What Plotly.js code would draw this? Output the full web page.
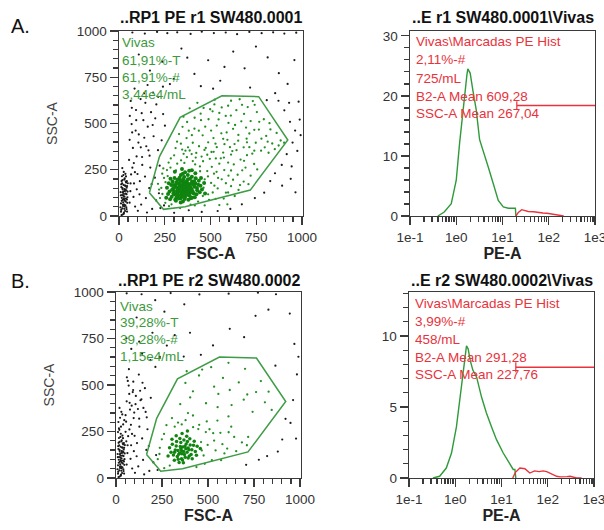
<!DOCTYPE html>
<html><head><meta charset="utf-8">
<script src="https://cdn.plot.ly/plotly-3.0.1.min.js"></script>
<style>html,body{margin:0;padding:0;background:#fff}#chart{width:604px;height:530px}</style>
</head><body><div id="chart"></div>
<script>
// ---- Gate polygon "Vivas" (FSC-A, SSC-A) ----
const gateX = [166, 243, 361, 717, 922, 763, 562, 334, 221, 166];
const gateY = [126, 36, 50, 140, 411, 645, 650, 533, 321, 126];

// ---- Scatter A: events outside the gate (black) ----
const blackA = [
[21,87],[34,142],[12,33],[28,61],[41,118],[17,176],[26,12],[38,94],[9,129],[31,203],[22,54],[45,71],[15,98],[36,163],[27,119],[11,68],[43,188],[19,151],[33,27],[24,221],[40,47],[14,189],[30,105],[47,132],[20,8],[37,78],[25,168],[10,112],[42,153],[18,41],[32,134],[28,91],[16,215],[39,181],[23,74],[44,24],[13,156],[35,57],[29,197],[21,126],[46,101],[26,238],[15,82],[38,214],[33,164],[8,47],[24,109],[41,37],[19,194],[31,145],[27,18],[36,121],[12,171],[43,89],[22,62],[35,228],[17,113],[29,39],[40,139],[14,5],[48,177],[25,96],[32,83],[20,145],[37,186],[11,23],[44,162],[23,133],[30,52],[18,259],
[62,134],[88,51],[114,188],[73,261],[147,97],[96,322],[181,38],[58,412],[127,276],[203,84],[82,176],[161,355],[69,497],[108,441],[142,213],[226,43],[55,303],[93,573],[171,262],[121,62],[76,368],[189,431],[64,622],[133,518],[218,123],[101,227],[157,483],[85,689],[246,57],[119,371],[178,172],[66,225],[144,612],[198,528],[91,462],[233,409],[112,117],[59,541],[167,326],[204,603],[79,103],[138,423],[251,488],[97,144],[186,667],[72,452],[124,556],[213,356],[153,19],[81,286],[241,551],[106,397],[165,151],[58,72],[137,663],[222,272],[94,518],[184,492],[126,319],[70,585],[149,377],[214,644],[103,28],[175,561],[240,699],[63,176],[118,632],[196,207],[87,237],[156,708],
[73,992],[141,986],[208,995],[264,988],[318,993],[391,984],[452,996],[518,989],[583,992],[645,983],[712,995],[779,988],[842,993],[903,986],[968,991],
[108,873],[169,786],[236,834],[299,742],[341,905],[412,768],[487,842],[553,731],[624,889],[686,798],[748,916],[812,857],[873,772],[921,714],[958,843],[447,702],[576,806],[373,856],[278,713],[514,688],[716,694],
[871,623],[903,571],[934,509],[962,462],[987,521],[948,397],[916,334],[889,276],[852,231],[974,352],[943,268],[981,618],[992,437],[826,189],[891,164],[938,201],[793,126],[742,97],[671,63],[608,38],[539,27],[964,128],[452,22],[381,31],[301,17],[853,664],[807,626],[929,612]
];
// ---- Scatter A: gated events (green), dense core ----
const greenCoreA = [
[352,141],[318,127],[389,158],[337,96],[371,182],[296,149],[408,121],[344,168],[326,112],[383,135],[361,103],[303,118],[417,176],[349,79],[333,193],[392,96],[276,133],[365,157],[311,171],[427,139],[356,211],[288,104],[399,187],[341,138],[322,152],[378,114],[445,163],[307,88],[363,128],[331,207],[414,102],[285,168],[354,172],[376,199],[341,117],[397,146],[319,139],[268,119],[436,191],[359,92],[328,176],[384,171],[301,135],[347,153],[412,158],[371,139],[293,187],[338,221],[423,118],[356,126],[379,88],[314,101],[398,212],[343,186],[262,153],[453,143],[367,116],[326,144],[389,126],[351,199],[308,157],[433,169],[279,91],[372,164],[336,131],[402,134],[319,196],[361,236],[388,201],[344,106],[297,122],[419,204],[355,183],[330,164],[381,148],[311,83],[465,178],[348,124],[394,176],[272,177],[337,73],[426,152],[364,144],[303,206],[386,109],[349,228],[321,115],[407,169],[373,127],[290,142],[441,128],[358,163],[333,152],[376,222],[315,183],[399,99],[281,201],[352,112],[368,186],[340,149],[411,188],[327,95],[391,139],[296,168],[448,205],[362,171],[383,244],[305,239],[417,231],[258,99],[470,122],[344,254],[398,247]
];
// ---- Scatter A: gated events (green), medium and sparse ----
const greenA = [
[231,152],[487,117],[262,248],[541,206],[318,283],[612,161],[224,97],[459,296],[575,248],[287,63],[503,179],[371,318],[648,223],[246,206],[528,93],[422,341],[596,127],[271,289],[482,243],[681,186],[339,301],[556,312],[213,174],[507,266],[403,297],[627,279],[253,71],[468,198],[584,177],[301,328],[539,149],[691,262],[442,268],[266,216],[612,332],[517,347],[386,354],[237,119],[572,94],[462,153],[334,43],[653,141],[496,309],[281,262],[719,218],[548,283],[416,279],[598,218],[474,368],[357,287],[242,257],[664,305],[512,127],[391,62],[623,196],[451,321],[283,311],[533,239],[738,281],[569,343],[432,78],[219,143],[486,214],[707,172],[596,289],[353,336],[521,164],[642,356],[468,57],[311,246],[561,198],[419,316],[254,183],[673,247],[492,87],[606,372],[377,371],[529,311],[755,252],[443,242],[584,126],[632,108],[699,329],[273,53],[482,331],[548,59],[397,335],[661,167],[519,229],[612,246],[458,108],[236,229],[573,316],[683,298],[414,57],[505,346],[728,337],[592,63],[345,359],
[412,472],[583,541],[697,418],[338,391],[521,603],[764,467],[446,553],[631,389],[812,402],[372,508],[559,447],[703,589],[487,398],[851,361],[612,623],[428,612],[739,353],[534,489],[309,367],[668,512],[791,523],[398,437],[576,388],[883,408],[462,584],[712,446],[347,482],[623,471],[516,421],[827,468],[753,562],[437,377],[596,596],[681,371],[369,421],[548,557],[796,371],[489,523],[652,438],[731,621],[413,531],[569,417],[861,449],[317,402],[503,462],[719,513],[641,572],[386,582],[778,418],[534,372],[598,503],[457,436],[817,342],[672,601],[352,537],[747,396],[523,629],[619,351],[471,483],[694,478],[837,392],[561,587],[403,396],[766,509],[588,452],[436,461],[712,372],[498,577],[651,407],[872,381],[328,443],[544,522],[683,552],[804,433],[467,357],[611,543],[739,466],[381,461],[527,391],[659,631],[776,353],[448,518],[592,412],[699,398],[363,353],[822,502],[511,566],[634,492],[741,601],[902,396]
];

// ---- Scatter B ----
const blackB = [
[21,87],[34,142],[12,33],[28,61],[41,118],[17,176],[26,12],[38,94],[9,129],[31,203],[22,54],[45,71],[15,98],[36,163],[27,119],[11,68],[43,188],[19,151],[33,27],[24,221],[40,47],[14,189],[30,105],[47,132],[20,8],[37,78],[25,168],[10,112],[42,153],[18,41],[32,134],[28,91],[16,215],[39,181],[23,74],[44,24],[13,156],[35,57],[29,197],[21,126],[46,101],[26,238],[15,82],[38,214],[33,164],[8,47],[24,109],[41,37],[19,194],[31,145],[27,18],[36,121],[12,171],[43,89],[22,62],[35,228],[17,113],[29,39],[40,139],[14,5],[48,177],[25,96],[32,83],[20,145],[37,186],[11,23],[44,162],[23,133],[30,52],[18,259],
[27,276],[13,301],[39,288],[22,324],[34,342],[16,267],[45,311],[29,356],[52,248],[19,377],[56,197],[11,247],
[62,134],[88,51],[114,188],[73,261],[147,97],[96,322],[181,38],[58,412],[127,276],[203,84],[82,176],[161,355],[69,497],[108,441],[142,213],[226,43],[55,303],[93,473],[171,262],[121,62],[76,368],[189,431],[64,522],[133,418],[218,123],[101,227],[157,483],[85,389],[119,371],[178,172],[66,225],[144,512],[91,462],[112,117],[59,541],[167,326],[79,103],[138,423],[97,144],[72,452],[124,556],[153,19],[81,286],[106,397],[165,151],[58,72],[94,518],[126,319],[70,585],[149,377],[103,28],[63,176],[87,237],[52,338],[74,404],[99,352],[131,469],
[83,694],[57,751],[126,733],[198,781],[276,712],[319,768],[368,653],[402,781],[461,662],[527,713],[618,802],[696,757],[758,872],[828,905],[944,884],[112,863],[263,894],[371,934],[213,956],[139,988],[297,994],[453,987],[612,991],[771,996],[869,988],[58,993],[187,634],[238,651],[142,668],[214,597],
[983,557],[991,652],[962,419],[948,296],[903,207],[879,142],[821,118],[776,98],[707,71],[978,212],[969,721],[921,318],[866,604]
];
const greenCoreB = [
[367,142],[341,128],[392,161],[356,104],[381,183],[322,151],[408,127],[349,169],[333,116],[386,138],[361,97],[312,124],[421,176],[352,191],[376,112],[299,139],[396,152],[343,84],[369,204],[327,172],[414,104],[358,131],[388,196],[336,148],[403,178],[317,96],[362,166],[431,143],[347,213],[379,157],[306,182],[398,118],[355,148],[425,198],[338,101],[372,127],[291,163],[384,224],[346,135],[412,152],[329,196],[366,82],[392,108],[441,171],[352,157],[318,139],[401,211],[374,171],[283,118],[437,122],[359,239],[327,227],[458,158],[388,253],[304,208]
];
const greenB = [
[238,162],[476,121],[261,237],[533,201],[319,276],[604,158],[227,101],[452,286],[567,243],[292,67],[498,178],[378,311],[642,221],[249,208],[521,96],[418,336],[589,132],[274,284],[488,247],[684,191],[337,298],[551,309],[508,262],[626,276],[462,193],[578,182],[304,322],[541,148],[447,263],[611,331],[391,349],[571,96],[466,148],[653,144],[493,304],[419,273],[718,221],[236,129],[528,241],[711,176],[357,288],[482,76],[612,246],[262,53],[437,59],
[418,466],[581,538],[694,421],[349,397],[517,596],[761,462],[451,551],[628,392],[809,407],[377,511],[556,452],[701,587],[489,402],[846,366],[611,619],[742,356],[533,491],[667,514],[403,433],[787,521],[468,583],[713,449],[618,473],[829,464],[552,381],[384,574]
];

// ---- Histograms (PE-A, log scale) ----
const histA_green_x = [0.40,0.55,0.78,1.0,1.18,1.39,1.58,1.70,1.78,1.88,2.0,2.28,2.7,3.2,3.8,4.9,6.3,8.1,10.4,13.4,15.9,19.0,19.5];
const histA_green_y = [0,0.67,2.06,5.96,12.1,17.7,21.6,23.5,24.5,24.0,23.8,21.0,17.7,12.7,11.0,8.2,5.4,2.6,1.5,1.3,1.3,1.3,0];
const histA_red_x = [19.5,22,26,30,36,47,60,75,92,120,150,180,210];
const histA_red_y = [0,0.6,1.05,0.9,0.75,0.7,0.55,0.5,0.45,0.3,0.2,0.1,0];
const histB_green_x = [0.33,0.46,0.64,0.83,1.06,1.25,1.48,1.65,1.75,1.9,2.1,2.4,2.9,3.7,4.7,6.1,7.8,10.9,15.2,17.9,19.5,20.4];
const histB_green_y = [0,0.12,0.7,1.76,3.6,5.5,7.4,8.6,9.3,9.1,8.3,7.6,7.1,5.7,4.6,3.6,2.7,1.76,0.94,0.6,0.6,0];
const histB_red_x = [17.5,20,25,32,41,52,65,79,95,112,135,156,185,217,260,303,360,420,540];
const histB_red_y = [0,0.4,0.7,0.65,0.35,0.5,0.45,0.5,0.45,0.35,0.2,0.12,0.08,0.07,0.1,0.12,0.05,0,0];
// marker regions (Marcadas)
const markerA_x = [20.4, 1000], markerA_y = [18.4, 18.4];
const markerA_tick_y = [17.8, 19.1];
const markerB_x = [20.4, 1000], markerB_y = [7.8, 7.8];
const markerB_tick_y = [7.45, 8.15];

// ---- Texts and ticks ----
const titles = ["..RP1 PE r1 SW480.0001", "..E r1 SW480.0001\\Vivas", "..RP1 PE r2 SW480.0002", "..E r2 SW480.0002\\Vivas"];
const gateTextA = ["Vivas", "61,91%-T", "61,91%-#", "3,44e4/mL"];
const gateTextB = ["Vivas", "39,28%-T", "39,28%-#", "1,15e4/mL"];
const histTextA = ["Vivas\\Marcadas PE Hist", "2,11%-#", "725/mL", "B2-A Mean 609,28", "SSC-A Mean 267,04"];
const histTextB = ["Vivas\\Marcadas PE Hist", "3,99%-#", "458/mL", "B2-A Mean 291,28", "SSC-A Mean 227,76"];
const linMajor1000 = [0, 250, 500, 750, 1000];
const linMinor1000 = [50,100,150,200,300,350,400,450,550,600,650,700,800,850,900,950];
const logMajor = [0.1, 1, 10, 100, 1000];
const logMajorText = ["1e-1", "1e0", "1e1", "1e2", "1e3"];
const logMinor = [0.2,0.3,0.4,0.5,0.6,0.7,0.8,0.9,2,3,4,5,6,7,8,9,20,30,40,50,60,70,80,90,200,300,400,500,600,700,800,900];
const histAMajor = [0, 10, 20, 30], histAMinor = [2,4,6,8,12,14,16,18,22,24,26,28];
const histBMajor = [0, 5, 10], histBMinor = [1,2,3,4,6,7,8,9,11,12,13];

const GREEN = '#238f23', GATE = '#3f9c46', RED = '#e8323c', HG = '#2f9a3a', AX = '#3a3a3a';
const FONT = 'Liberation Sans, Arial, sans-serif';
const W = 604, H = 530;
const px = v => v / W, py = v => 1 - v / H;

// ---- geometry of the four panels ----
const P = {
  sA: {xd: [px(119), px(303)], yd: [py(216), py(31)], xr: [0, 1005], yr: [0, 1000]},
  hA: {xd: [px(410), px(595)], yd: [py(216), py(31)], xr: [-1, 3], yr: [0, 30.8]},
  sB: {xd: [px(116), px(301)], yd: [py(478), py(292)], xr: [0, 1005], yr: [0, 1000]},
  hB: {xd: [px(409), px(594)], yd: [py(478), py(292)], xr: [-1, 3], yr: [0, 13.1]}
};

function pts(arr, xa, ya, color, size) {
  return {x: arr.map(p => p[0]), y: arr.map(p => p[1]), xaxis: xa, yaxis: ya, type: 'scatter', mode: 'markers',
    marker: {color: color, size: size}, hoverinfo: 'skip', showlegend: false};
}
function line(x, y, xa, ya, color, w) {
  return {x: x, y: y, xaxis: xa, yaxis: ya, type: 'scatter', mode: 'lines', line: {color: color, width: w},
    hoverinfo: 'skip', showlegend: false};
}
// minor tick marks as short line markers just outside the axis lines
const MINOR_LEN = 5, MAJOR_LEN = 8;
function minorTicks(p, xa, ya, xVals, yVals, xLog) {
  const xUnitsPerPx = (p.xr[1] - p.xr[0]) / ((p.xd[1] - p.xd[0]) * W);
  const yUnitsPerPx = (p.yr[1] - p.yr[0]) / ((p.yd[1] - p.yd[0]) * H);
  const off = MINOR_LEN / 2 + 0.6;
  const yPos = p.yr[0] - off * yUnitsPerPx;
  const xPosL = p.xr[0] - off * xUnitsPerPx;
  const xPos = xLog ? Math.pow(10, xPosL) : xPosL;
  const mk = (sym) => ({symbol: sym, size: MINOR_LEN, color: AX, line: {width: 1.3, color: AX}});
  return [
    {x: xVals, y: xVals.map(() => yPos), xaxis: xa, yaxis: ya, type: 'scatter', mode: 'markers', cliponaxis: false,
      marker: mk('line-ns'), hoverinfo: 'skip', showlegend: false},
    {x: yVals.map(() => xPos), y: yVals, xaxis: xa, yaxis: ya, type: 'scatter', mode: 'markers', cliponaxis: false,
      marker: mk('line-ew'), hoverinfo: 'skip', showlegend: false}
  ];
}
const traces = [
  pts(blackA, 'x', 'y', '#1a1a1a', 2.2), pts(greenA, 'x', 'y', GREEN, 2.3), pts(greenCoreA, 'x', 'y', '#0f840f', 4.0),
  line(gateX, gateY, 'x', 'y', GATE, 1.5),
  line(histA_green_x, histA_green_y, 'x2', 'y2', HG, 1.4), line(histA_red_x, histA_red_y, 'x2', 'y2', RED, 1.4),
  line(markerA_x, markerA_y, 'x2', 'y2', RED, 1.4), line([markerA_x[0], markerA_x[0]], markerA_tick_y, 'x2', 'y2', RED, 1.2),
  pts(blackB, 'x3', 'y3', '#1a1a1a', 2.2), pts(greenB, 'x3', 'y3', GREEN, 2.3), pts(greenCoreB, 'x3', 'y3', '#0f840f', 3.5),
  line(gateX, gateY, 'x3', 'y3', GATE, 1.5),
  line(histB_green_x, histB_green_y, 'x4', 'y4', HG, 1.4), line(histB_red_x, histB_red_y, 'x4', 'y4', RED, 1.4),
  line(markerB_x, markerB_y, 'x4', 'y4', RED, 1.4), line([markerB_x[0], markerB_x[0]], markerB_tick_y, 'x4', 'y4', RED, 1.2)
].concat(
  minorTicks(P.sA, 'x', 'y', linMinor1000, linMinor1000, false),
  minorTicks(P.hA, 'x2', 'y2', logMinor, histAMinor, true),
  minorTicks(P.sB, 'x3', 'y3', linMinor1000, linMinor1000, false),
  minorTicks(P.hB, 'x4', 'y4', logMinor, histBMinor, true)
);

const tickFont = {family: FONT, size: 13.5, color: '#333'};
function mainAx(p, which, majors, labels, minors, anchor, type, title) {
  return {domain: which === 'x' ? p.xd : p.yd, range: which === 'x' ? p.xr : p.yr, type: type, anchor: anchor,
    tickmode: 'array', tickvals: majors, ticktext: labels,
    minor: {tickmode: 'array', tickvals: minors, ticks: 'outside', ticklen: MINOR_LEN, tickwidth: 1.3, tickcolor: AX, showgrid: false},
    showline: true, linecolor: AX, linewidth: 1.4, mirror: true, ticks: 'outside', ticklen: MAJOR_LEN, tickcolor: AX,
    tickwidth: 1.3, showgrid: false, zeroline: false, tickfont: tickFont, fixedrange: true, automargin: false,
    ticklabeloverflow: 'allow', title: title};
}
const xTitle = t => ({text: '<b>' + t + '</b>', font: {family: FONT, size: 16, color: '#222'}, standoff: 3});
const yTitle = t => ({text: t, font: {family: FONT, size: 14, color: '#444'}, standoff: 16});
const lbl = v => v.map(String);
const layout = {
  width: W, height: H, margin: {l: 0, r: 0, t: 0, b: 0}, paper_bgcolor: '#fff', plot_bgcolor: '#fff',
  showlegend: false, font: {family: FONT},
  xaxis: mainAx(P.sA, 'x', linMajor1000, lbl(linMajor1000), linMinor1000, 'y', 'linear', xTitle('FSC-A')),
  yaxis: mainAx(P.sA, 'y', linMajor1000, lbl(linMajor1000), linMinor1000, 'x', 'linear', yTitle('SSC-A')),
  xaxis2: mainAx(P.hA, 'x', logMajor, logMajorText, logMinor, 'y2', 'log', xTitle('PE-A')),
  yaxis2: mainAx(P.hA, 'y', histAMajor, lbl(histAMajor), histAMinor, 'x2', 'linear'),
  xaxis3: mainAx(P.sB, 'x', linMajor1000, lbl(linMajor1000), linMinor1000, 'y3', 'linear', xTitle('FSC-A')),
  yaxis3: mainAx(P.sB, 'y', linMajor1000, lbl(linMajor1000), linMinor1000, 'x3', 'linear', yTitle('SSC-A')),
  xaxis4: mainAx(P.hB, 'x', logMajor, logMajorText, logMinor, 'y4', 'log', xTitle('PE-A')),
  yaxis4: mainAx(P.hB, 'y', histBMajor, lbl(histBMajor), histBMinor, 'x4', 'linear'),
  annotations: []
};
const ann = layout.annotations;
function addText(text, x, y, color, size, anchor, bold) {
  ann.push({text: bold ? '<b>' + text + '</b>' : text, x: px(x), y: py(y), xref: 'paper', yref: 'paper', showarrow: false,
    xanchor: anchor, yanchor: 'middle', font: {family: FONT, size: size, color: color}});
}
addText('A.', 9, 26, '#111', 20, 'left');
addText('B.', 9, 281, '#111', 20, 'left');
addText(titles[0], 211, 18, '#111', 16, 'center', true);
addText(titles[1], 503, 18, '#111', 16, 'center', true);
addText(titles[2], 209, 280, '#111', 16, 'center', true);
addText(titles[3], 502, 280, '#111', 16, 'center', true);
[43, 61, 78, 95].forEach((y, i) => addText(gateTextA[i], 120, y, '#3c9a3c', 13.5, 'left'));
[306, 322, 339, 356].forEach((y, i) => addText(gateTextB[i], 118, y, '#3c9a3c', 13.5, 'left'));
[42, 60, 79, 97, 114].forEach((y, i) => addText(histTextA[i], 414, y, RED, 13.5, 'left'));
[303, 321, 339, 357, 374].forEach((y, i) => addText(histTextB[i], 413, y, RED, 13.5, 'left'));

Plotly.newPlot('chart', traces, layout, {staticPlot: true, displayModeBar: false});
</script></body></html>
